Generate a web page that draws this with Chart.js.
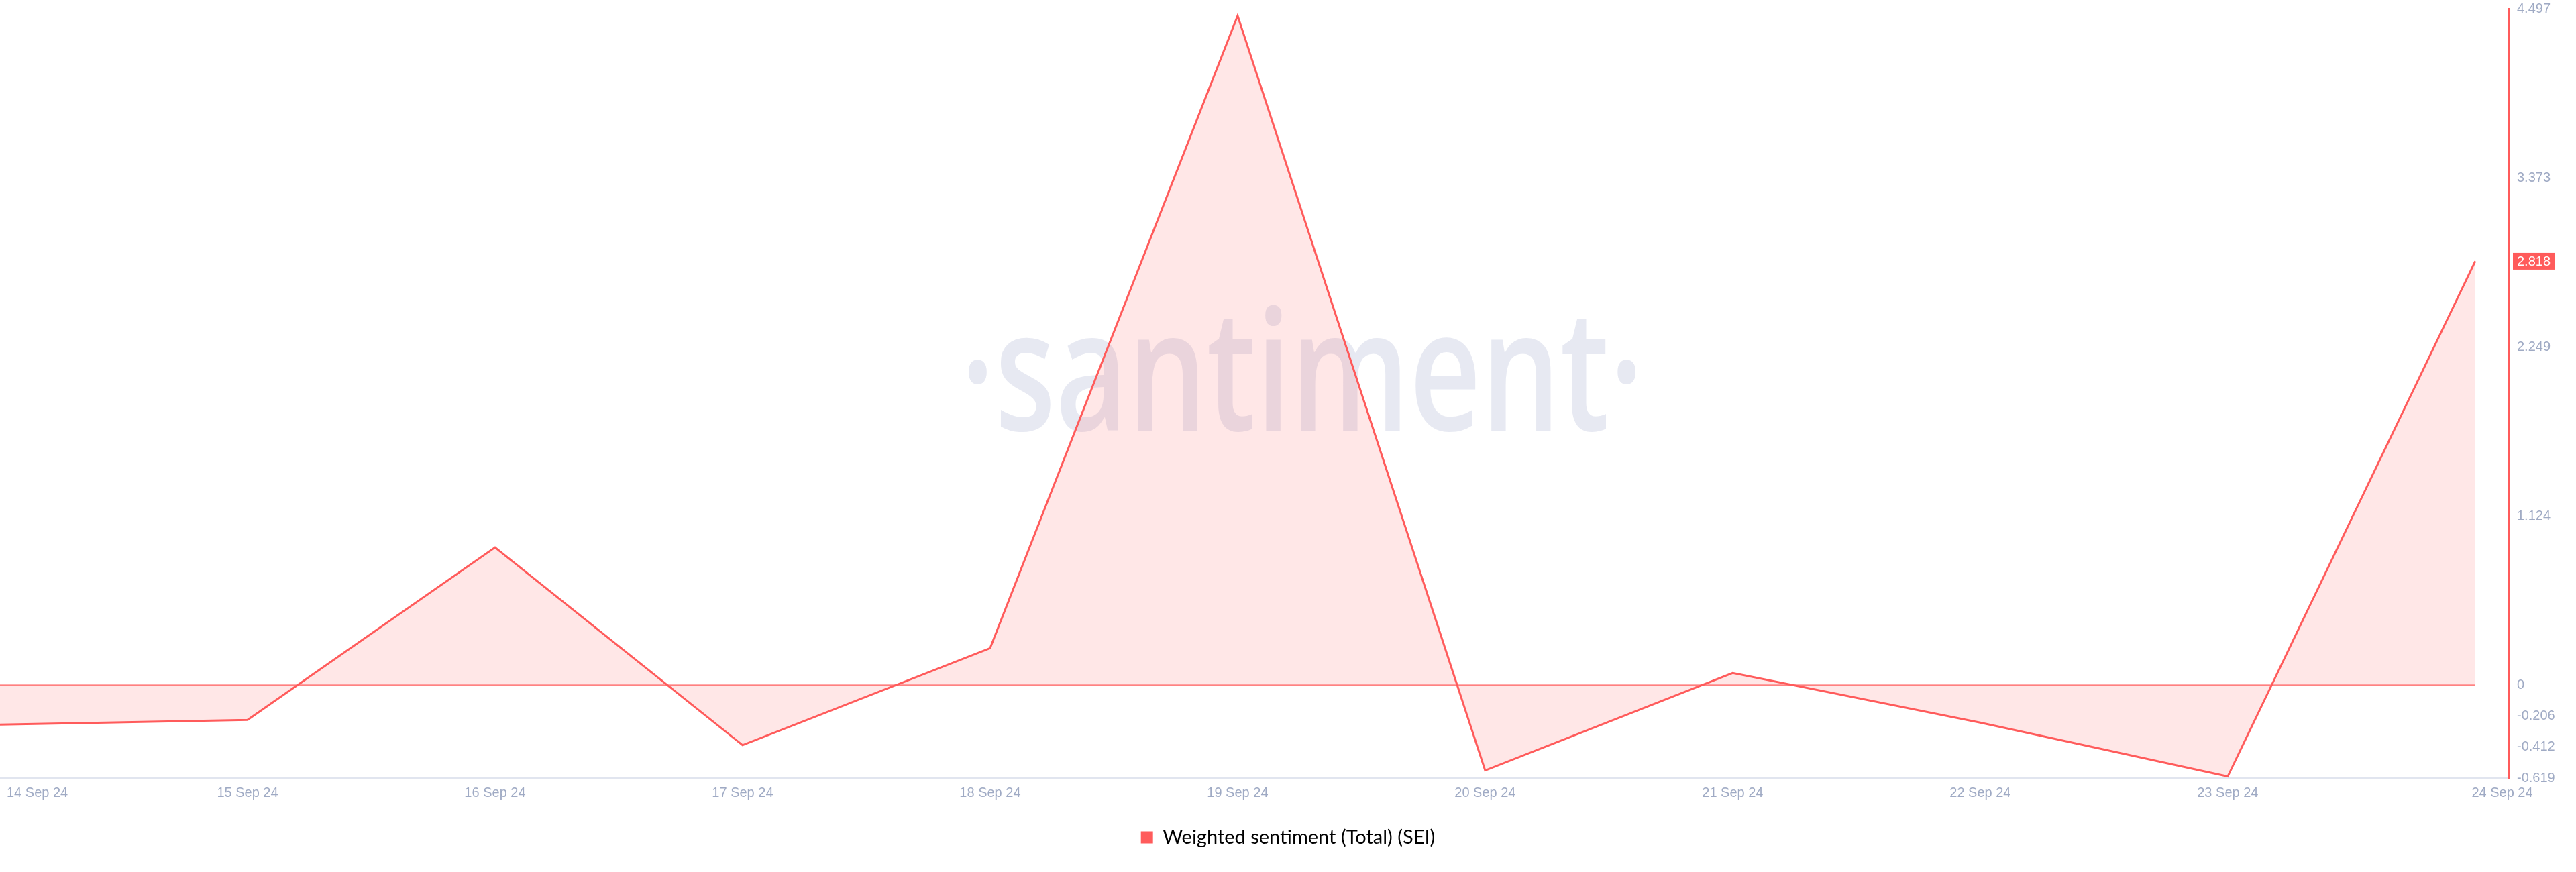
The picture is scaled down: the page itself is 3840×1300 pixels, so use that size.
<!DOCTYPE html>
<html>
<head>
<meta charset="utf-8">
<title>Weighted sentiment (Total) (SEI)</title>
<script src="https://cdn.jsdelivr.net/npm/chart.js@4.4.1/dist/chart.umd.min.js"></script>
<style>
  html, body { margin: 0; padding: 0; background: #fff; }
  canvas { display: block; }
</style>
</head>
<body>
<canvas id="chart" width="3840" height="1300"></canvas>
<script>
// data
const dates = ['14 Sep 24', '15 Sep 24', '16 Sep 24', '17 Sep 24', '18 Sep 24', '19 Sep 24',
               '20 Sep 24', '21 Sep 24', '22 Sep 24', '23 Sep 24', '24 Sep 24'];
const sentiment = [-0.263, -0.232, 0.915, -0.400, 0.245, 4.450, -0.568, 0.080, -0.250, -0.608, 2.818];
const zeroLine = [0, 0, 0, 0, 0, 0, 0, 0, 0, 0, 0];
const yTickLabels = ['4.497', '3.373', '2.249', '1.124', '0', '-0.206', '-0.412', '-0.619'];
const seriesName = 'Weighted sentiment (Total) (SEI)';

const RED = '#ff5b5b';
const AXIS_TEXT = '#9faac4';
const TICK_FAMILY = "'Liberation Sans', Arial, sans-serif";
const tickFont = { family: TICK_FAMILY, size: 20 };

const yValues = yTickLabels.map(Number);

// big faded logo behind the line
const watermark = {
  id: 'watermark',
  beforeDatasetsDraw(chart) {
    const { ctx, chartArea: a } = chart;
    ctx.save();
    ctx.font = "600 250px 'Open Sans'";
    ctx.fillStyle = '#e7e9f2';
    ctx.textAlign = 'center';
    ctx.textBaseline = 'alphabetic';
    const sx = (a.width * 0.245) / ctx.measureText('santiment').width;
    ctx.translate(a.left + a.width * 0.519, a.top + a.height * 0.548);
    ctx.scale(sx, 1);
    ctx.fillText('\u00b7santiment\u00b7', 0, 0);
    ctx.restore();
  }
};

// first/last date labels are pulled inside the axis, like santiment does
const edgeLabels = {
  id: 'edgeLabels',
  afterLayout(chart) {
    const s = chart.scales.x;
    const t = s.ticks;
    if (!t || !t.length) return;
    const { ctx } = chart;
    ctx.save();
    ctx.font = `${tickFont.size}px ${TICK_FAMILY}`;
    const w0 = ctx.measureText(dates[0]).width;
    ctx.restore();
    t[0].value = s.getValueForPixel(s.left + 10 + w0 / 2);
    t[t.length - 1].value = s.getValueForPixel(s.right - 10);
    s._labelItems = null;
  }
};

// red tag with the latest value on the right axis
const lastValueBadge = {
  id: 'lastValueBadge',
  afterDraw(chart) {
    const { ctx } = chart;
    const y = chart.scales.y;
    const v = sentiment[sentiment.length - 1];
    const py = y.getPixelForValue(v);
    ctx.save();
    ctx.font = `${tickFont.size}px ${TICK_FAMILY}`;
    const text = v.toFixed(3);
    const w = ctx.measureText(text).width;
    const x0 = y.left + 6;
    ctx.fillStyle = RED;
    ctx.fillRect(x0, py - 12.5, w + 12, 25);
    ctx.fillStyle = '#fff';
    ctx.textBaseline = 'middle';
    ctx.fillText(text, x0 + 6, py + 1);
    ctx.restore();
  }
};

new Chart(document.getElementById('chart'), {
  type: 'line',
  data: {
    datasets: [
      {
        label: seriesName,
        data: sentiment.map((v, i) => ({ x: i, y: v })),
        borderColor: RED,
        backgroundColor: 'rgba(255, 91, 91, 0.15)',
        borderWidth: 3,
        pointRadius: 0,
        tension: 0,
        fill: 'origin',
        clip: 8,
        order: 1
      },
      {
        label: 'zero',
        data: zeroLine.map((v, i) => ({ x: i, y: v })),
        borderColor: RED,
        borderWidth: 1.2,
        pointRadius: 0,
        fill: false,
        order: 2
      }
    ]
  },
  options: {
    responsive: false,
    devicePixelRatio: 1,
    animation: false,
    layout: { padding: { top: 13, bottom: 27, left: 0, right: 0 } },
    scales: {
      x: {
        type: 'linear',
        min: 0,
        max: dates.length - 1 + 0.136,
        grid: { display: false, drawTicks: false },
        border: { display: true, color: '#e1e5ef', width: 2 },
        ticks: {
          color: AXIS_TEXT,
          font: tickFont,
          padding: 10,
          maxRotation: 0,
          autoSkip: false,
          callback: v => dates[v]
        },
        afterBuildTicks: s => { s.ticks = dates.map((d, i) => ({ value: i })); },
        afterFit: s => {
          s.height = 62;
          s.paddingLeft = 0;
          s.paddingRight = 0;
        }
      },
      y: {
        position: 'right',
        min: Math.min(...yValues),
        max: Math.max(...yValues),
        grid: { display: false, drawTicks: false },
        border: { display: true, color: RED, width: 2 },
        ticks: {
          color: AXIS_TEXT,
          font: tickFont,
          padding: 12,
          autoSkip: false,
          callback: v => yTickLabels[yValues.indexOf(v)]
        },
        afterBuildTicks: s => {
          s.ticks = yValues.slice().sort((a, b) => a - b).map(v => ({ value: v }));
        },
        afterFit: s => {
          s.width = 100;
          s.paddingTop = 0;
          s.paddingBottom = 0;
        }
      }
    },
    plugins: {
      legend: {
        position: 'bottom',
        labels: {
          boxWidth: 18,
          boxHeight: 18,
          padding: 12,
          color: '#1d2235',
          font: { family: 'Lato', size: 29 },
          generateLabels: () => [{
            text: seriesName,
            fillStyle: RED,
            strokeStyle: RED,
            lineWidth: 0,
            hidden: false,
            datasetIndex: 0
          }]
        }
      },
      tooltip: { enabled: false }
    }
  },
  plugins: [watermark, edgeLabels, lastValueBadge]
});
</script>
</body>
</html>
